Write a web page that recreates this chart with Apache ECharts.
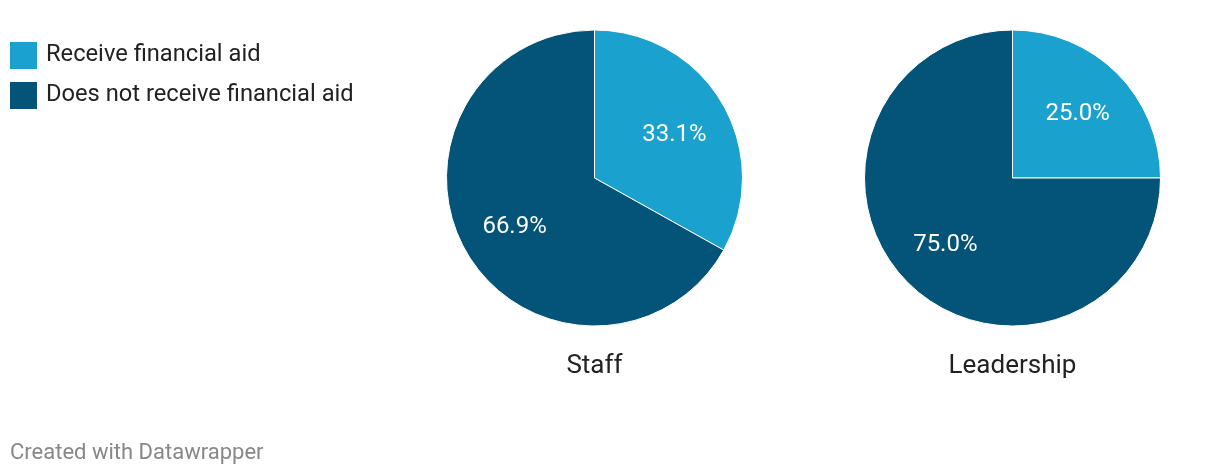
<!DOCTYPE html>
<html><head><meta charset="utf-8">
<script src="https://cdn.jsdelivr.net/npm/echarts@6/dist/echarts.min.js"></script>
<style>html,body{margin:0;padding:0;background:#fff}#c{width:1220px;height:476px}</style>
</head><body><div id="c"></div>
<script>
const categories = ['Receive financial aid', 'Does not receive financial aid'];
const groups = ['Staff', 'Leadership'];
const staffValues = [33.1, 66.9];
const leadershipValues = [25.0, 75.0];
const footer = 'Created with Datawrapper';

const colors = ['#1aa1cd', '#04547a'];
const centersX = [594.5, 1012.5];
const centerY = 178;
const R = 148;
// label nudges
const labelOffsets = [[[-2, 5], [2, 1]], [[-2, 3], [0, 0]]];

const valueSets = [staffValues, leadershipValues];
const series = [];
valueSets.forEach((vals, gi) => {
  series.push({
    type: 'pie', radius: R, center: [centersX[gi], centerY],
    startAngle: 90, clockwise: true, silent: true,
    label: {show: false}, labelLine: {show: false},
    itemStyle: {borderColor: '#fff', borderWidth: 1},
    data: vals.map((v, i) => ({name: categories[i], value: v, itemStyle: {color: colors[i]}}))
  });
  series.push({
    type: 'pie', radius: [36, R], center: [centersX[gi], centerY],
    startAngle: 90, clockwise: true, silent: true, legendHoverLink: false,
    labelLine: {show: false},
    itemStyle: {color: 'rgba(0,0,0,0)', borderWidth: 0},
    data: vals.map((v, i) => ({
      name: categories[i] + ' ', value: v,
      label: {show: true, position: 'inside', formatter: v.toFixed(1) + '%',
        color: '#fff', fontSize: 24, fontFamily: 'Roboto',
        offset: labelOffsets[gi][i]}
    }))
  });
});

const chart = echarts.init(document.getElementById('c'), null, {renderer: 'canvas'});
chart.setOption({
  animation: false,
  backgroundColor: '#fff',
  color: colors,
  title: groups.map((g, gi) => ({
    text: g, left: centersX[gi], top: 353, textAlign: 'center', padding: 0,
    textStyle: {fontFamily: 'Roboto', fontSize: 26, fontWeight: 'normal', color: '#222'}
  })).concat([{
    text: footer, left: 10, top: 442, padding: 0,
    textStyle: {fontFamily: 'Roboto', fontSize: 22, fontWeight: 'normal', color: '#888'}
  }]),
  legend: {
    data: categories, orient: 'vertical', left: 10, top: 40, padding: 0,
    itemWidth: 27, itemHeight: 27, itemGap: 9, icon: 'rect',
    itemStyle: {borderWidth: 0},
    selectedMode: false,
    textStyle: {fontFamily: 'Roboto', fontSize: 23.7, lineHeight: 27, color: '#222', padding: [4, 0, 0, 4]}
  },
  series: series
});
</script></body></html>
